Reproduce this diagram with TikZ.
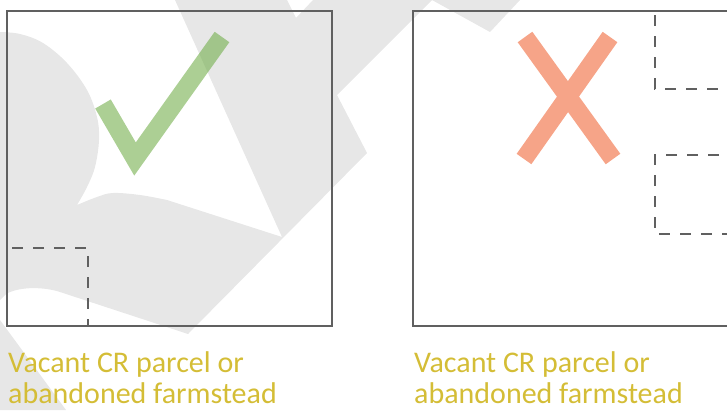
\documentclass[tikz,border=0pt]{standalone}
\usepackage{fontspec}
\setmainfont{Carlito}
\definecolor{wm}{HTML}{E7E7E7}
\definecolor{framecol}{HTML}{606060}
\definecolor{okgreen}{HTML}{70AD47}
\definecolor{nored}{HTML}{F6A488}
\definecolor{lblcol}{HTML}{D4BD36}
\begin{document}
\begin{tikzpicture}[x=1pt,y=-1pt,
  wmark/.style={fill=wm, draw=none},
  framebox/.style={draw=framecol, line width=2pt},
  dashbox/.style={draw=framecol, line width=1.6pt, dash pattern=on 11pt off 10pt},
  tickstroke/.style={draw=okgreen, line width=18pt, miter limit=10, line join=miter, draw opacity=0.58},
  crossstroke/.style={draw=nored, line width=18pt},
  lbltext/.style={text=lblcol, font=\fontsize{30}{31}\selectfont, inner sep=0pt, anchor=base west}]
\useasboundingbox (0,0) rectangle (727,410);
\clip (0,0) rectangle (727,410);
% watermark
\fill[wmark] (0,32) -- plot[smooth, tension=0.6] coordinates {(0,32) (20,34) (43,43) (67,63) (87,90) (97,117) (99,140) (95,167) (87,187) (77,205)}
  -- plot[smooth, tension=0.6] coordinates {(77,205) (97,197) (113,193) (140,195) (167,200)}
  -- (282,237) -- (175,0) -- (287,0) -- (296,18) -- (313,0) -- (432,0) -- (337,95) -- (367,153) -- (188,334)
  -- (60,292) .. controls (45,287) and (20,286) .. (6,294) -- (0,300) -- cycle;
\fill[wmark] (432,0) -- (490,32) -- (520,0) -- cycle;
\fill[wmark] (0,320) -- (66,410) -- (0,410) -- cycle;
% left panel
\draw[framebox] (7,11) rectangle (332,326);
\draw[dashbox] (12,248) -- (88,248) -- (88,326);
\coordinate (tA) at (103,104);
\coordinate (tB) at (135,159);
\coordinate (tC) at (222,37);
\draw[tickstroke] (tA) -- (tB) -- (tC);
% right panel
\draw[framebox] (740,11) -- (413,11) -- (413,326) -- (740,326);
\draw[dashbox] (655,15) -- (655,89) -- (740,89);
\draw[dashbox] (740,155) -- (655,155) -- (655,234) -- (740,234);
\coordinate (xA) at (525,37);
\coordinate (xB) at (613,159);
\coordinate (xC) at (610,37);
\coordinate (xD) at (524,159);
\draw[crossstroke] (xA) -- (xB);
\draw[crossstroke] (xC) -- (xD);
% labels
\node[lbltext] (l1a) at (8,372) {Vacant CR parcel or};
\node[lbltext] (l1b) at (8,403) {abandoned farmstead};
\node[lbltext] (l2a) at (414,372) {Vacant CR parcel or};
\node[lbltext] (l2b) at (414,403) {abandoned farmstead};
\end{tikzpicture}
\end{document}
